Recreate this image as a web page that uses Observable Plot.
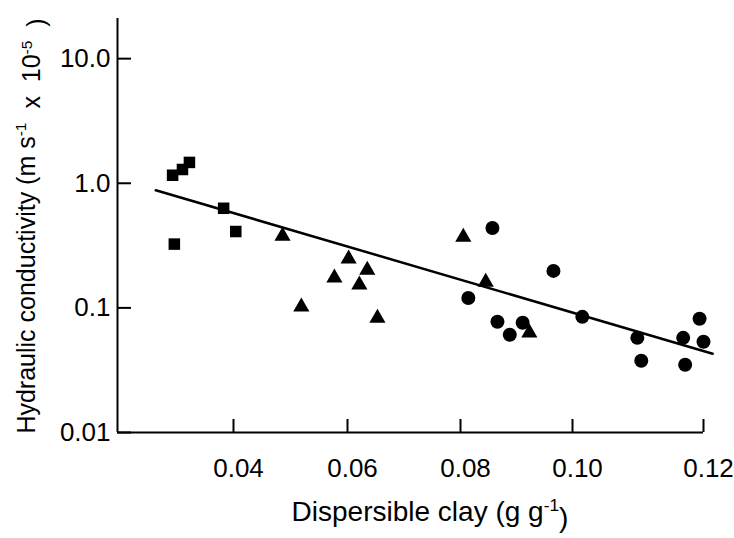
<!DOCTYPE html>
<html><head><meta charset="utf-8">
<script src="https://cdn.jsdelivr.net/npm/d3@7"></script>
<script src="https://cdn.jsdelivr.net/npm/@observablehq/plot@0.6"></script>
<style>html,body{margin:0;padding:0;background:#fff}</style>
</head><body><div id="chart"></div>
<script>
// Squares
const squareClay = [0.0295, 0.0312, 0.0324, 0.0383, 0.0404, 0.0298];
const squareK    = [1.16,   1.29,   1.47,   0.63,   0.41,   0.325];
// Triangles
const triangleClay = [0.0486, 0.0602, 0.0635, 0.0577, 0.0621, 0.0519, 0.0653, 0.0805, 0.0845, 0.0923];
const triangleK    = [0.377,  0.247,  0.201,  0.174,  0.153,  0.102,  0.083,  0.370,  0.161,  0.063];
// Circles
const circleClay = [0.0857, 0.0966, 0.0814, 0.0866, 0.0911, 0.0888, 0.1015, 0.1099, 0.1105, 0.1169, 0.1172, 0.1194, 0.1200];
const circleK    = [0.437,  0.198,  0.120,  0.0773, 0.0759, 0.0608, 0.0847, 0.0575, 0.0377, 0.0575, 0.035,  0.0817, 0.0535];
// Regression line end points
const fitClay = [0.0266, 0.1214];
const fitK    = [0.879,  0.0429];
// Ticks
const xTicks = [0.04, 0.06, 0.08, 0.10, 0.12];
const xTickLabels = ["0.04", "0.06", "0.08", "0.10", "0.12"];
const yTicks = [10, 1, 0.1, 0.01];
const yTickLabels = ["10.0", "1.0", "0.1", "0.01"];

const zip = (xs, ys) => xs.map((x, i) => ({x, y: ys[i]}));
const squares = zip(squareClay, squareK);
const triangles = zip(triangleClay, triangleK);
const circles = zip(circleClay, circleK);
const fit = zip(fitClay, fitK);

const W = 734, H = 538;
const font = "'Liberation Sans', Arial, Helvetica, sans-serif";

const plot = Plot.plot({
  width: W,
  height: H,
  marginLeft: 117,
  marginRight: 31,
  marginTop: 18,
  marginBottom: 106,
  style: {fontFamily: font, fontSize: "26px", background: "#fff", color: "#000"},
  x: {
    type: "linear",
    // hand-drawn axis: tick spacing in the original is uneven
    domain: [0.02, 0.04, 0.06, 0.08, 0.10, 0.12],
    range: [117, 233, 347, 460, 572, 703],
    label: null
  },
  y: {type: "log", domain: [0.01, 21], label: null},
  marks: [
    Plot.ruleX([0.02], {stroke: "#000", strokeWidth: 2}),
    Plot.ruleY([0.01], {stroke: "#000", strokeWidth: 2}),
    Plot.axisY(yTicks, {tickSize: -14, strokeWidth: 2, tickFormat: () => ""}),
    Plot.axisY(yTicks, {tickSize: 0, tickPadding: 7, tickFormat: d => yTickLabels[yTicks.indexOf(d)], fontSize: 26}),
    Plot.axisX(xTicks, {tickSize: -13, strokeWidth: 2, tickFormat: () => ""}),
    Plot.axisX(xTicks, {tickSize: 0, tickPadding: 26, dx: 5, tickFormat: d => xTickLabels[xTicks.indexOf(d)], fontSize: 26}),
    Plot.line(fit, {x: "x", y: "y", stroke: "#000", strokeWidth: 2.5}),
    Plot.dot(squares, {x: "x", y: "y", symbol: "square", r: 6.5, fill: "#000"}),
    Plot.dot(triangles, {x: "x", y: "y", symbol: "triangle", r: 6, fill: "#000"}),
    Plot.dot(circles, {x: "x", y: "y", symbol: "circle", r: 7, fill: "#000"})
  ]
});

const svg = d3.select(plot);
// X axis label
const xl = svg.append("text")
  .attr("x", 430).attr("y", 521)
  .attr("text-anchor", "middle")
  .attr("font-family", font).attr("font-size", 28).attr("fill", "#000");
xl.append("tspan").text("Dispersible clay (g g");
xl.append("tspan").attr("dy", "-0.55em").attr("font-size", "0.62em").text("-1");
xl.append("tspan").attr("dy", "0.55em").text(")");

// Y axis label
const yl = svg.append("text")
  .attr("transform", "translate(35,226) rotate(-90)")
  .attr("text-anchor", "middle")
  .attr("font-family", font).attr("font-size", 25).attr("fill", "#000");
yl.append("tspan").text("Hydraulic conductivity (m s");
yl.append("tspan").attr("dy", "-0.55em").attr("font-size", "0.62em").text("-1");
yl.append("tspan").attr("dy", "0.55em").text("\u00a0\u00a0x\u00a0\u00a010");
yl.append("tspan").attr("dy", "-0.55em").attr("font-size", "0.62em").text("-5");
yl.append("tspan").attr("dy", "0.55em").text("\u00a0\u00a0)");

document.getElementById("chart").appendChild(plot);
</script>
</body></html>
